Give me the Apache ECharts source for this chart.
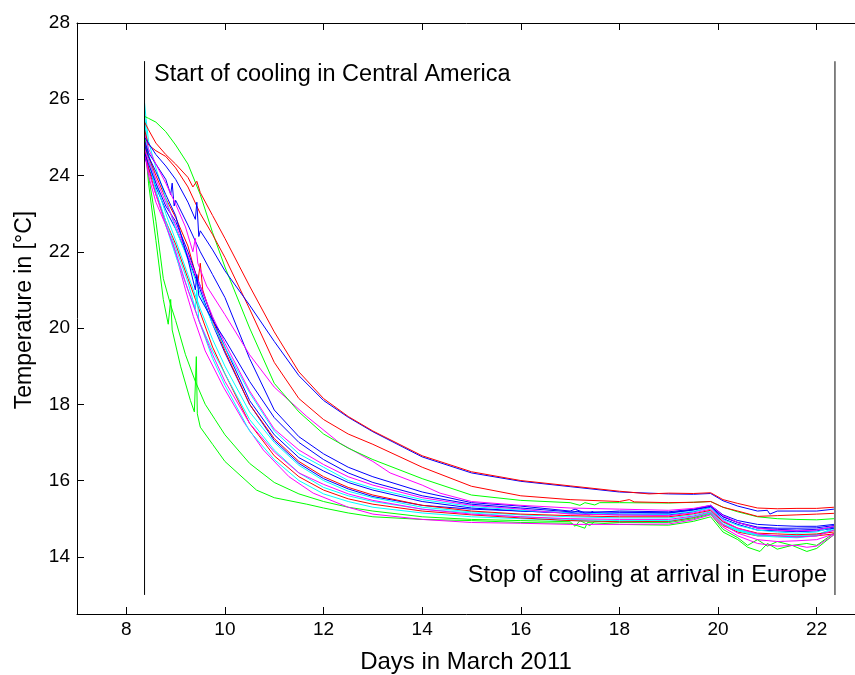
<!DOCTYPE html>
<html>
<head>
<meta charset="utf-8">
<script src="https://cdn.jsdelivr.net/npm/echarts@6/dist/echarts.min.js"></script>
<style>
  html, body { margin: 0; padding: 0; background: #fff; }
  #chart { width: 855px; height: 675px; }
</style>
</head>
<body>
<div id="chart"></div>
<script>
// tick labels
var xTicks = [8, 10, 12, 14, 16, 18, 20, 22]
var yTicks = [14, 16, 18, 20, 22, 24, 26, 28]

// vertical markers: start / stop of cooling
var startLine = [[8.37, 13], [8.37, 27]]
var stopLine = [[22.37, 13], [22.37, 27]]

// logger curves [day, temperature]
var redA = [[8.37,25.4],[8.45,25.2],[8.6,24.85],[8.8,24.55],[9.0,24.3],[9.25,23.95],[9.35,23.7],[9.43,23.85],[9.5,23.55],[9.75,22.95],[10.0,22.35],[10.5,21.1],[11.0,19.9],[11.5,18.85],[12.0,18.15],[12.5,17.68],[13.0,17.3],[14.0,16.65],[15.0,16.23],[16.0,16.0],[17.0,15.86],[18.0,15.72],[18.6,15.65],[19.0,15.67],[19.5,15.66],[19.85,15.68],[20.1,15.5],[20.4,15.4],[20.8,15.28],[21.2,15.26],[21.6,15.27],[22.0,15.27],[22.35,15.3]]
var blueA = [[8.37,25.0],[8.45,24.85],[8.6,24.55],[8.8,24.25],[9.0,23.9],[9.25,23.3],[9.4,22.85],[9.43,23.3],[9.47,22.4],[9.5,22.55],[9.75,22.05],[10.0,21.5],[10.5,20.6],[11.0,19.65],[11.5,18.75],[12.0,18.1],[12.5,17.66],[13.0,17.28],[14.0,16.62],[15.0,16.2],[16.0,15.98],[17.0,15.84],[18.0,15.7],[19.0,15.65],[19.5,15.64],[19.85,15.66],[20.1,15.47],[20.4,15.33],[20.8,15.2],[21.0,15.22],[21.05,15.12],[21.2,15.2],[21.6,15.2],[22.0,15.2],[22.35,15.25]]
var redB = [[8.37,25.2],[8.45,24.8],[8.6,24.65],[8.8,24.5],[9.0,24.2],[9.25,23.7],[9.5,23.0],[9.75,22.45],[10.0,21.85],[10.5,20.5],[11.0,19.1],[11.5,18.15],[12.0,17.6],[12.5,17.22],[13.0,16.95],[14.0,16.35],[15.0,15.85],[16.0,15.6],[17.0,15.5],[18.0,15.45],[18.2,15.5],[18.3,15.44],[19.0,15.42],[19.5,15.43],[19.85,15.45],[20.1,15.3],[20.4,15.2],[20.8,15.06],[21.2,15.08],[21.6,15.1],[22.0,15.12],[22.35,15.14]]
var green1 = [[8.37,25.55],[8.45,25.5],[8.6,25.4],[8.8,25.15],[9.0,24.8],[9.25,24.3],[9.5,23.5],[9.75,22.5],[10.0,21.6],[10.5,20.0],[11.0,18.55],[11.5,17.8],[12.0,17.22],[12.5,16.85],[13.0,16.55],[14.0,16.05],[15.0,15.62],[16.0,15.48],[17.0,15.42],[17.2,15.35],[17.3,15.42],[17.5,15.36],[17.6,15.42],[18.0,15.42],[19.0,15.41],[19.5,15.43],[19.85,15.45],[20.1,15.3],[20.4,15.18],[20.8,15.05],[21.2,15.0],[21.6,14.98],[22.0,14.97],[22.35,15.0]]
var magenta1 = [[8.37,25.1],[8.45,24.7],[8.6,24.3],[8.8,23.8],[9.0,23.25],[9.2,22.65],[9.35,22.0],[9.4,22.35],[9.45,21.7],[9.63,21.1],[10.0,20.35],[10.31,19.7],[10.5,19.3],[11.0,18.45],[11.66,17.68],[12.33,16.98],[13.0,16.5],[13.35,16.2],[14.0,15.88],[14.36,15.67],[15.0,15.45],[16.0,15.35],[17.0,15.28],[18.0,15.25],[19.0,15.22],[19.5,15.27],[19.85,15.35],[20.1,15.08],[20.4,14.9],[20.8,14.75],[21.2,14.7],[21.6,14.68],[22.0,14.7],[22.35,14.8]]
var blue2 = [[8.37,24.9],[8.45,24.6],[8.6,24.3],[8.8,23.9],[8.9,23.5],[8.93,23.8],[8.97,23.2],[9.0,23.35],[9.25,22.7],[9.5,22.0],[9.75,21.4],[10.0,20.8],[10.5,19.2],[11.0,17.85],[11.5,17.15],[12.0,16.7],[12.5,16.35],[13.0,16.1],[14.0,15.7],[15.0,15.42],[16.0,15.33],[17.0,15.2],[17.1,15.25],[17.3,15.15],[18.0,15.2],[19.0,15.18],[19.5,15.25],[19.85,15.35],[20.1,15.1],[20.4,14.95],[20.8,14.85],[21.2,14.82],[21.6,14.8],[22.0,14.8],[22.35,14.85]]
var blue3 = [[8.37,24.8],[8.45,24.5],[8.6,24.1],[8.8,23.5],[9.0,22.95],[9.25,21.8],[9.4,21.0],[9.43,21.4],[9.47,20.85],[9.75,20.2],[10.0,19.7],[10.5,18.6],[11.0,17.65],[11.5,17.0],[12.0,16.55],[12.5,16.2],[13.0,15.95],[14.0,15.6],[15.0,15.38],[16.0,15.28],[17.0,15.18],[18.0,15.17],[19.0,15.15],[19.5,15.23],[19.85,15.33],[20.1,15.05],[20.4,14.9],[20.8,14.75],[21.2,14.72],[21.6,14.7],[22.0,14.72],[22.35,14.78]]
var magenta2 = [[8.37,24.7],[8.45,24.4],[8.6,23.9],[8.8,23.3],[9.0,22.7],[9.25,21.9],[9.5,21.1],[9.75,20.3],[10.0,19.6],[10.5,18.35],[11.0,17.35],[11.5,16.8],[12.0,16.42],[12.5,16.1],[13.0,15.88],[14.0,15.55],[15.0,15.35],[16.0,15.25],[17.0,15.12],[18.0,15.1],[19.0,15.08],[19.5,15.15],[19.85,15.25],[20.1,14.95],[20.4,14.75],[20.8,14.6],[21.2,14.55],[21.6,14.52],[22.0,14.55],[22.35,14.7]]
var cyan1 = [[8.37,25.9],[8.4,25.5],[8.45,24.9],[8.6,24.2],[8.8,23.4],[9.0,22.6],[9.25,21.8],[9.5,20.9],[9.75,20.1],[10.0,19.5],[10.5,18.3],[11.0,17.3],[11.5,16.7],[12.0,16.35],[12.5,16.0],[13.0,15.8],[14.0,15.5],[15.0,15.32],[16.0,15.22],[17.0,15.15],[18.0,15.12],[19.0,15.12],[19.5,15.19],[19.85,15.28],[20.1,14.98],[20.4,14.82],[20.8,14.7],[21.2,14.65],[21.6,14.62],[22.0,14.65],[22.35,14.8]]
var blue4 = [[8.37,24.6],[8.45,24.3],[8.6,23.8],[8.8,23.2],[9.0,22.8],[9.25,22.0],[9.5,21.1],[9.75,20.25],[10.0,19.5],[10.5,18.1],[11.0,17.2],[11.5,16.6],[12.0,16.25],[12.5,15.95],[13.0,15.75],[14.0,15.45],[15.0,15.28],[16.0,15.2],[17.0,15.15],[17.15,15.2],[17.3,15.12],[18.0,15.1],[19.0,15.1],[19.5,15.18],[19.85,15.3],[20.1,15.0],[20.4,14.85],[20.8,14.7],[21.2,14.68],[21.6,14.66],[22.0,14.68],[22.35,14.75]]
var red3 = [[8.37,24.9],[8.45,24.5],[8.6,24.0],[8.8,23.4],[9.0,22.9],[9.25,22.15],[9.45,21.2],[9.5,21.7],[9.55,21.0],[9.75,20.2],[10.0,19.4],[10.5,18.0],[11.0,17.1],[11.5,16.5],[12.0,16.1],[12.5,15.82],[13.0,15.62],[14.0,15.35],[15.0,15.2],[16.0,15.12],[17.0,15.08],[18.0,15.05],[19.0,15.05],[19.5,15.13],[19.85,15.22],[20.1,14.92],[20.4,14.75],[20.8,14.62],[21.2,14.6],[21.6,14.58],[22.0,14.6],[22.35,14.65]]
var cyan2 = [[8.37,25.5],[8.45,24.6],[8.6,23.8],[8.8,23.0],[9.0,22.3],[9.25,21.4],[9.5,20.5],[9.75,19.7],[10.0,19.0],[10.5,17.8],[11.0,17.0],[11.5,16.4],[12.0,16.0],[12.5,15.72],[13.0,15.55],[14.0,15.3],[15.0,15.18],[16.0,15.1],[17.0,15.05],[18.0,15.02],[19.0,15.02],[19.5,15.1],[19.85,15.2],[20.1,14.9],[20.4,14.72],[20.8,14.58],[21.2,14.55],[21.6,14.55],[22.0,14.58],[22.35,14.75]]
var magenta3 = [[8.37,24.6],[8.45,24.1],[8.6,23.5],[8.8,22.7],[9.0,22.0],[9.25,21.0],[9.5,20.1],[9.75,19.3],[10.0,18.6],[10.5,17.5],[11.0,16.75],[11.5,16.2],[12.0,15.9],[12.5,15.65],[13.0,15.48],[14.0,15.25],[15.0,15.12],[16.0,15.05],[17.0,15.0],[18.0,14.98],[19.0,14.98],[19.5,15.07],[19.85,15.18],[20.1,14.85],[20.4,14.62],[20.8,14.45],[21.2,14.4],[21.6,14.42],[22.0,14.45],[22.35,14.6]]
var cyan3 = [[8.37,25.3],[8.45,24.4],[8.6,23.6],[8.8,22.8],[9.0,22.1],[9.25,21.2],[9.4,20.5],[9.43,21.0],[9.47,20.2],[9.75,19.4],[10.0,18.8],[10.5,17.6],[11.0,16.8],[11.5,16.2],[12.0,15.82],[12.5,15.6],[13.0,15.45],[14.0,15.25],[15.0,15.15],[16.0,15.05],[17.0,14.98],[18.0,14.95],[19.0,14.95],[19.5,15.05],[19.85,15.15],[20.1,14.85],[20.4,14.68],[20.8,14.55],[21.2,14.52],[21.6,14.5],[22.0,14.55],[22.35,14.7]]
var red4 = [[8.37,24.7],[8.45,24.2],[8.6,23.5],[8.8,22.8],[9.0,22.2],[9.25,21.3],[9.5,20.4],[9.75,19.5],[10.0,18.8],[10.5,17.5],[11.0,16.65],[11.5,16.1],[12.0,15.75],[12.5,15.52],[13.0,15.38],[14.0,15.2],[15.0,15.1],[16.0,15.02],[17.0,14.95],[18.0,14.92],[19.0,14.93],[19.5,15.03],[19.85,15.15],[20.1,14.82],[20.4,14.65],[20.8,14.55],[21.2,14.55],[21.6,14.52],[22.0,14.55],[22.35,14.6]]
var blue5 = [[8.37,24.5],[8.45,24.2],[8.6,23.7],[8.8,23.1],[9.0,22.6],[9.25,21.85],[9.5,21.0],[9.75,20.1],[10.0,19.35],[10.5,18.0],[11.0,17.05],[11.5,16.45],[12.0,16.05],[12.5,15.78],[13.0,15.58],[14.0,15.35],[15.0,15.25],[16.0,15.2],[17.0,15.15],[17.4,15.1],[17.45,15.2],[17.5,15.12],[18.0,15.15],[19.0,15.15],[19.5,15.23],[19.85,15.32],[20.1,15.05],[20.4,14.9],[20.8,14.78],[21.2,14.75],[21.6,14.75],[22.0,14.76],[22.35,14.82]]
var cyan4 = [[8.37,25.6],[8.42,24.8],[8.5,24.2],[8.6,23.6],[8.8,22.7],[9.0,21.9],[9.25,21.0],[9.5,20.1],[9.75,19.2],[10.0,18.5],[10.5,17.3],[11.0,16.55],[11.5,16.0],[12.0,15.65],[12.5,15.45],[13.0,15.3],[14.0,15.15],[15.0,15.05],[16.0,15.0],[17.0,14.95],[18.0,14.92],[19.0,14.92],[19.5,15.03],[19.85,15.14],[20.1,14.85],[20.4,14.7],[20.8,14.58],[21.2,14.55],[21.6,14.55],[22.0,14.58],[22.35,14.72]]
var magenta4 = [[8.37,24.6],[8.45,24.0],[8.6,23.3],[8.8,22.7],[8.95,22.2],[9.2,21.0],[9.36,20.3],[9.6,19.4],[9.97,18.45],[10.4,17.5],[10.78,16.8],[11.3,16.1],[11.79,15.67],[12.5,15.3],[13.0,15.12],[14.0,14.98],[15.0,14.9],[16.0,14.88],[17.0,14.85],[18.0,14.85],[19.0,14.86],[19.5,14.97],[19.85,15.1],[20.1,14.78],[20.4,14.55],[20.8,14.35],[21.2,14.28],[21.6,14.3],[21.8,14.25],[22.0,14.28],[22.35,14.58]]
var green3 = [[8.37,25.2],[8.45,24.0],[8.6,22.8],[8.75,21.3],[8.9,20.6],[9.0,20.2],[9.2,19.3],[9.4,18.6],[9.6,18.0],[9.8,17.6],[10.0,17.2],[10.5,16.45],[11.0,15.95],[11.5,15.65],[12.0,15.45],[12.5,15.3],[13.0,15.2],[14.0,15.05],[15.0,14.98],[16.0,14.95],[17.0,14.92],[17.1,14.8],[17.2,14.95],[17.4,14.82],[17.5,14.93],[18.0,14.9],[19.0,14.9],[19.5,15.0],[19.85,15.12],[20.1,14.72],[20.4,14.5],[20.6,14.3],[20.8,14.45],[21.0,14.28],[21.2,14.4],[21.5,14.3],[21.8,14.35],[22.0,14.3],[22.35,14.62]]
var green4 = [[8.37,25.0],[8.45,23.8],[8.6,22.3],[8.75,20.75],[8.85,20.1],[8.9,20.75],[8.93,19.95],[9.1,19.0],[9.3,18.1],[9.38,17.8],[9.42,19.25],[9.44,17.75],[9.5,17.4],[9.75,16.95],[10.0,16.5],[10.64,15.75],[11.0,15.55],[11.66,15.38],[12.0,15.28],[12.5,15.15],[13.0,15.05],[14.0,14.98],[15.0,14.95],[16.0,14.9],[17.0,14.88],[17.3,14.75],[17.35,14.9],[18.0,14.85],[19.0,14.83],[19.5,14.93],[19.85,15.05],[20.1,14.65],[20.4,14.45],[20.6,14.25],[20.85,14.14],[21.0,14.35],[21.2,14.2],[21.5,14.3],[21.8,14.14],[22.0,14.22],[22.35,14.58]]

var RED = '#ff0000', BLUE = '#0000ff', GREEN = '#00ff00', CYAN = '#00ffff', MAGENTA = '#ff00ff'

var curves = [
  [green4, GREEN], [green3, GREEN], [magenta4, MAGENTA], [cyan4, CYAN], [blue5, BLUE],
  [red4, RED], [cyan3, CYAN], [magenta3, MAGENTA], [cyan2, CYAN], [red3, RED],
  [blue4, BLUE], [cyan1, CYAN], [magenta2, MAGENTA], [blue3, BLUE], [blue2, BLUE],
  [magenta1, MAGENTA], [green1, GREEN], [redB, RED], [blueA, BLUE], [redA, RED]
]

var FONT = 'Liberation Sans, Arial, Helvetica, sans-serif'

var series = curves.map(function (c) {
  return {
    type: 'line',
    data: c[0],
    showSymbol: false,
    symbol: 'none',
    lineStyle: { color: c[1], width: 1 },
    silent: true
  }
})
series.push({
  type: 'line', data: startLine, symbol: 'none', silent: true,
  lineStyle: { color: '#000', width: 1 }
})
series.push({
  type: 'line', data: stopLine, symbol: 'none', silent: true,
  lineStyle: { color: '#666', width: 1.6 }
})

var chart = echarts.init(document.getElementById('chart'), null, { renderer: 'canvas' })
chart.setOption({
  animation: false,
  backgroundColor: '#fff',
  grid: { left: 77, top: 23, bottom: 61, right: -11, containLabel: false, outerBoundsMode: 'none' },
  xAxis: [{
    type: 'value', min: 7, max: 23,
    axisLine: { show: true, onZero: false, lineStyle: { color: '#000', width: 1 } },
    axisTick: { show: true, inside: true, length: 7, customValues: xTicks, lineStyle: { color: '#000' } },
    axisLabel: { customValues: xTicks, margin: 6, color: '#000', fontSize: 19, fontFamily: FONT },
    splitLine: { show: false }
  }, {
    type: 'value', min: 7, max: 23, position: 'top',
    axisLine: { show: true, onZero: false, lineStyle: { color: '#000', width: 1 } },
    axisTick: { show: true, inside: true, length: 7, customValues: xTicks, lineStyle: { color: '#000' } },
    axisLabel: { show: false },
    splitLine: { show: false }
  }],
  yAxis: [{
    type: 'value', min: 12.5, max: 28,
    axisLine: { show: true, onZero: false, lineStyle: { color: '#000', width: 1 } },
    axisTick: { show: true, inside: true, length: 7, customValues: yTicks, lineStyle: { color: '#000' } },
    axisLabel: { customValues: yTicks, margin: 7, color: '#000', fontSize: 19, fontFamily: FONT },
    splitLine: { show: false }
  }],
  graphic: [
    {
      type: 'text', left: 154, top: 63, silent: true,
      style: { text: 'Start of cooling in Central America', font: '23.5px ' + FONT, fill: '#000' }
    },
    {
      type: 'text', right: 28, top: 564, silent: true,
      style: { text: 'Stop of cooling at arrival in Europe', font: '23.5px ' + FONT, fill: '#000' }
    },
    {
      type: 'text', x: 466, y: 662, silent: true,
      style: { text: 'Days in March 2011', font: '24px ' + FONT, fill: '#000', align: 'center', verticalAlign: 'middle' }
    },
    {
      type: 'text', x: 25, y: 310, rotation: Math.PI / 2, silent: true,
      style: { text: 'Temperature in [°C]', font: '23px ' + FONT, fill: '#000', align: 'center', verticalAlign: 'middle' }
    }
  ],
  series: series
})
</script>
</body>
</html>
